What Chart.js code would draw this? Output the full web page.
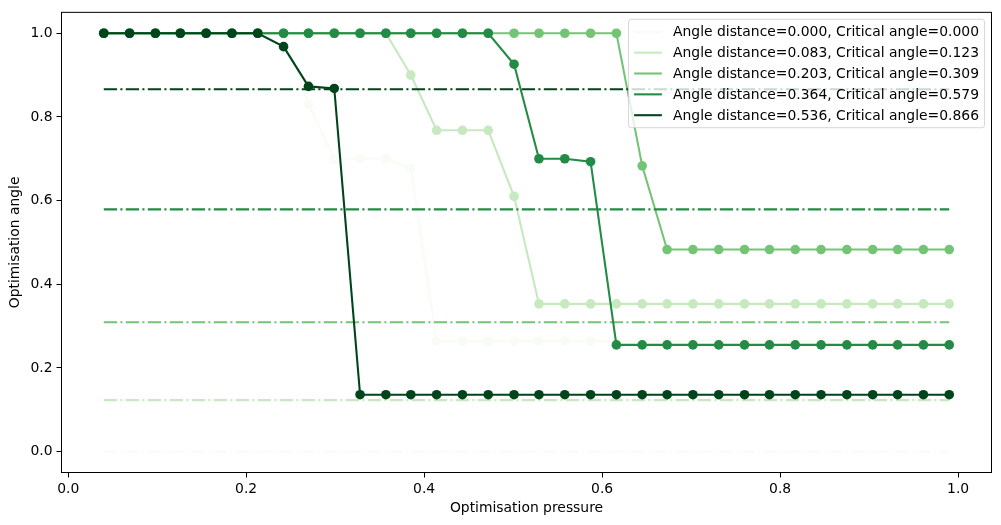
<!DOCTYPE html>
<html>
<head>
<meta charset="utf-8">
<script src="https://cdn.jsdelivr.net/npm/chart.js@4.4.0/dist/chart.umd.min.js"></script>
<style>
html, body { margin: 0; padding: 0; background: #fff; }
#wrap { width: 1001px; height: 525px; }
</style>
</head>
<body>
<div id="wrap"><canvas id="chart" width="1001" height="525"></canvas></div>
<script>
// optimisation pressure values (x)
var pressure = [0.040, 0.069, 0.098, 0.126, 0.155, 0.184, 0.213, 0.242, 0.270, 0.299,
                0.328, 0.357, 0.385, 0.414, 0.443, 0.472, 0.501, 0.529, 0.558, 0.587,
                0.616, 0.645, 0.673, 0.702, 0.731, 0.760, 0.788, 0.817, 0.846, 0.875,
                0.904, 0.932, 0.961, 0.990];

var angleDistance = [0.000, 0.083, 0.203, 0.364, 0.536];
var criticalAngle = [0.000, 0.123, 0.309, 0.579, 0.866];

// optimisation angle per angle distance
var angle000 = [1, 1, 1, 1, 1, 1, 1, 1, 0.83, 0.70,
                0.70, 0.70, 0.677, 0.264, 0.264, 0.264, 0.264, 0.264, 0.264, 0.264,
                0.264, 0.264, 0.264, 0.264, 0.264, 0.264, 0.264, 0.264, 0.264, 0.264,
                0.264, 0.264, 0.264, 0.264];
var angle083 = [1, 1, 1, 1, 1, 1, 1, 1, 1, 1,
                1, 1, 0.90, 0.768, 0.768, 0.768, 0.61, 0.353, 0.353, 0.353,
                0.353, 0.353, 0.353, 0.353, 0.353, 0.353, 0.353, 0.353, 0.353, 0.353,
                0.353, 0.353, 0.353, 0.353];
var angle203 = [1, 1, 1, 1, 1, 1, 1, 1, 1, 1,
                1, 1, 1, 1, 1, 1, 1, 1, 1, 1,
                1, 0.683, 0.483, 0.483, 0.483, 0.483, 0.483, 0.483, 0.483, 0.483,
                0.483, 0.483, 0.483, 0.483];
var angle364 = [1, 1, 1, 1, 1, 1, 1, 1, 1, 1,
                1, 1, 1, 1, 1, 1, 0.926, 0.70, 0.70, 0.693,
                0.255, 0.255, 0.255, 0.255, 0.255, 0.255, 0.255, 0.255, 0.255, 0.255,
                0.255, 0.255, 0.255, 0.255];
var angle536 = [1, 1, 1, 1, 1, 1, 1, 0.968, 0.873, 0.868,
                0.136, 0.136, 0.136, 0.136, 0.136, 0.136, 0.136, 0.136, 0.136, 0.136,
                0.136, 0.136, 0.136, 0.136, 0.136, 0.136, 0.136, 0.136, 0.136, 0.136,
                0.136, 0.136, 0.136, 0.136];

var tickVals = [0.0, 0.2, 0.4, 0.6, 0.8, 1.0];

var allSeries = [angle000, angle083, angle203, angle364, angle536];
var colours = ['#f7fcf5', '#c7e9c0', '#74c476', '#238b45', '#00441b'];
var FS = 13.9;
var LW = 2.08;

Chart.defaults.font.family = "'DejaVu Sans', sans-serif";
Chart.defaults.font.size = FS;
Chart.defaults.color = '#000';

function labelFor(i) {
    return 'Angle distance=' + angleDistance[i].toFixed(3) + ', Critical angle=' + criticalAngle[i].toFixed(3);
}

var datasets = [];
var drawIdx = 0;
for (var i = 0; i < allSeries.length; i++) {
    datasets.push({
        data: pressure.map(function(x, j) { return {x: x, y: allSeries[i][j]}; }),
        borderColor: colours[i],
        backgroundColor: colours[i],
        borderWidth: LW,
        pointRadius: 4.8,
        pointBorderWidth: 0,
        pointBackgroundColor: colours[i],
        order: 100 - (drawIdx++)
    });
    // critical angle line
    datasets.push({
        data: [{x: pressure[0], y: criticalAngle[i]}, {x: pressure[pressure.length - 1], y: criticalAngle[i]}],
        borderColor: colours[i],
        borderWidth: LW,
        borderDash: [13.3, 3.3, 2.1, 3.3],
        pointRadius: 0,
        order: 100 - (drawIdx++)
    });
}

// top/right spines + legend box like matplotlib
var framePlugin = {
    id: 'frame',
    afterDraw: function(chart) {
        var ctx = chart.ctx, a = chart.chartArea;
        ctx.save();
        ctx.strokeStyle = '#000';
        ctx.lineWidth = 1;
        ctx.strokeRect(a.left, a.top, a.right - a.left, a.bottom - a.top);

        // legend
        ctx.font = FS + "px 'DejaVu Sans'";
        var tw = 0;
        for (var i = 0; i < angleDistance.length; i++) {
            tw = Math.max(tw, ctx.measureText(labelFor(i)).width);
        }
        var pad = 0.4 * FS, hl = 2 * FS, htp = 0.8 * FS, sp = 0.5 * FS;
        var w = pad * 2 + hl + htp + tw;
        var h = pad * 2 + angleDistance.length * FS + (angleDistance.length - 1) * sp;
        var x0 = a.right - 0.5 * FS - w, y0 = a.top + 0.5 * FS;
        ctx.beginPath();
        ctx.roundRect(x0, y0, w, h, 0.2 * FS);
        ctx.fillStyle = 'rgba(255,255,255,0.8)';
        ctx.fill();
        ctx.strokeStyle = 'rgba(204,204,204,0.8)';
        ctx.stroke();
        ctx.textBaseline = 'middle';
        ctx.textAlign = 'left';
        for (var k = 0; k < angleDistance.length; k++) {
            var cy = y0 + pad + k * (FS + sp) + FS / 2;
            ctx.beginPath();
            ctx.strokeStyle = colours[k];
            ctx.lineWidth = LW;
            ctx.moveTo(x0 + pad, cy);
            ctx.lineTo(x0 + pad + hl, cy);
            ctx.stroke();
            ctx.fillStyle = '#000';
            ctx.fillText(labelFor(k), x0 + pad + hl + htp, cy + 1);
        }
        ctx.restore();
    }
};

function setTicks(axis) {
    axis.ticks = tickVals.map(function(v) { return {value: v}; });
}

new Chart(document.getElementById('chart'), {
    type: 'line',
    data: { datasets: datasets },
    options: {
        responsive: false,
        animation: false,
        layout: { padding: { left: 0, right: 9.5, top: 9, bottom: 0 } },
        plugins: { legend: { display: false }, tooltip: { enabled: false } },
        scales: {
            x: {
                type: 'linear',
                min: -0.0075,
                max: 1.0375,
                afterBuildTicks: setTicks,
                afterFit: function(axis) { axis.height = 52.5; },
                grid: { drawOnChartArea: false, tickLength: 5, tickColor: '#000', tickWidth: 1 },
                border: { display: true, color: '#000' },
                ticks: { padding: 4, maxRotation: 0, callback: function(v) { return v.toFixed(1); } },
                title: { display: true, text: 'Optimisation pressure', padding: { top: 0, bottom: 8 } }
            },
            y: {
                min: -0.05,
                max: 1.05,
                afterBuildTicks: setTicks,
                afterFit: function(axis) { axis.width = 61.5; },
                grid: { drawOnChartArea: false, tickLength: 5, tickColor: '#000', tickWidth: 1 },
                border: { display: true, color: '#000' },
                ticks: { padding: 4, callback: function(v) { return v.toFixed(1); } },
                title: { display: true, text: 'Optimisation angle', padding: { top: 7, bottom: 0 } }
            }
        }
    },
    plugins: [framePlugin]
});
</script>
</body>
</html>
